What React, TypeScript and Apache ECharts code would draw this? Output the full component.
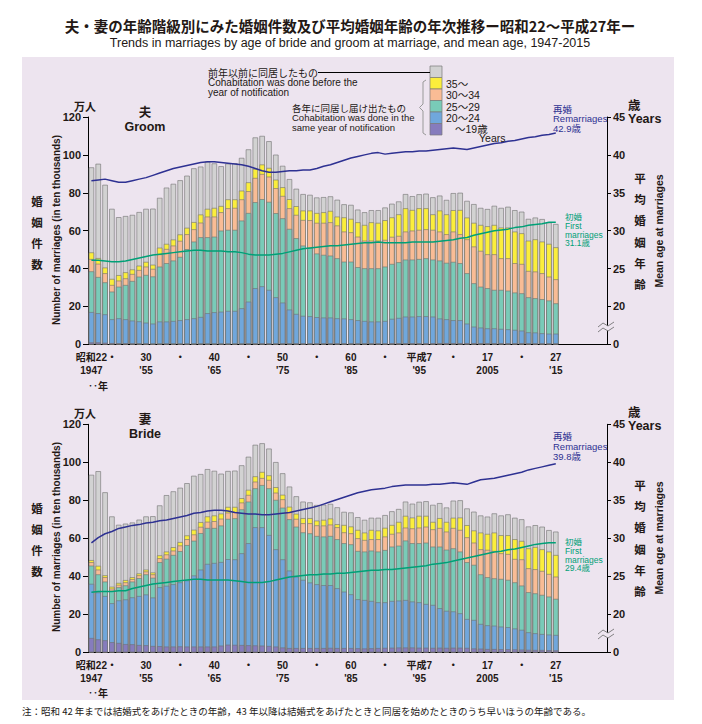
import { useEffect, useRef } from "react";
import * as echarts from "echarts";

// ---- categories ----
const years: string[] = Array.from({ length: 76 }, (_, i) => String(1947 + i)); // 2016-2022 left empty
const tickLabels: Record<string, string> = {
  "1947": "昭和22\n1947", "1950": "・", "1955": "30\n'55", "1960": "・", "1965": "40\n'65",
  "1970": "・", "1975": "50\n'75", "1980": "・", "1985": "60\n'85", "1990": "・",
  "1995": "平成7\n'95", "2000": "・", "2005": "17\n2005", "2010": "・", "2015": "27\n'15",
};

// ---- marriages, 10 thousands (1947-2015) ----
const totalMarriages = [
  93.4, 95.3, 84.2, 71.5, 67.1, 67.7, 68.3, 69.8, 71.5, 71.6,
  77.3, 82.7, 84.7, 86.6, 89.0, 92.9, 93.8, 96.4, 95.5, 94.0,
  95.4, 95.6, 98.4, 102.9, 109.2, 110.0, 107.2, 100.1, 94.2, 87.2,
  82.1, 79.3, 78.9, 77.5, 77.7, 78.1, 76.3, 73.9, 73.6, 71.1,
  69.7, 70.8, 70.8, 72.2, 74.2, 75.4, 79.3, 78.2, 79.2, 79.5,
  77.6, 78.5, 76.2, 79.8, 80.0, 75.7, 74.0, 72.0, 71.4, 73.1,
  72.0, 72.6, 70.8, 70.0, 66.2, 66.9, 66.1, 64.3, 63.5,
];
// cohabitation in same year as notification (all ages)
const sameYearTotal = [
  48.5, 45.5, 40.5, 34.5, 36.5, 38.0, 39.5, 41.5, 43.5, 42.0,
  51.0, 53.0, 55.3, 58.0, 61.5, 64.5, 68.5, 71.5, 72.0, 73.0,
  76.5, 76.5, 81.1, 85.5, 92.6, 94.9, 93.1, 86.9, 82.9, 76.6,
  72.9, 70.6, 70.6, 69.3, 69.7, 70.4, 67.4, 67.0, 66.2, 64.4,
  63.0, 64.4, 64.1, 65.5, 67.0, 68.6, 71.8, 70.9, 71.8, 71.8,
  68.6, 70.6, 68.6, 70.8, 70.9, 66.9, 64.1, 63.0, 62.3, 63.0,
  61.6, 61.6, 59.5, 58.6, 54.7, 55.4, 54.2, 53.0, 51.2,
];
// groom, same-year cohabitation, age up to 34 / 29 / 24 / 19
const groomUpTo34 = [
  45.0, 42.5, 37.5, 31.3, 33.6, 34.8, 37.1, 39.2, 41.0, 39.8,
  47.5, 50.3, 52.1, 54.6, 58.1, 60.7, 64.2, 67.4, 67.4, 69.7,
  71.8, 72.0, 76.5, 80.8, 87.8, 89.9, 88.5, 82.4, 78.3, 71.8,
  68.3, 65.6, 65.5, 64.1, 64.1, 64.4, 62.7, 59.5, 59.1, 56.8,
  54.7, 54.7, 54.7, 55.1, 56.7, 57.2, 59.5, 60.0, 60.4, 60.7,
  60.4, 59.5, 58.1, 59.5, 58.1, 55.4, 51.6, 49.3, 47.5, 47.5,
  45.4, 45.4, 42.8, 42.4, 38.7, 38.4, 37.5, 35.7, 34.3,
];
const groomUpTo29 = [
  38.5, 35.5, 32.7, 27.8, 30.4, 31.3, 33.4, 35.7, 36.6, 35.8,
  41.0, 42.8, 44.2, 46.1, 50.2, 54.2, 56.5, 56.5, 56.8, 60.0,
  60.4, 60.4, 65.3, 69.3, 75.0, 76.6, 75.2, 69.2, 66.5, 60.9,
  56.0, 52.1, 50.9, 47.9, 47.2, 46.8, 45.4, 43.6, 43.6, 40.7,
  40.1, 40.1, 40.1, 41.0, 42.4, 43.3, 44.7, 44.7, 45.0, 45.4,
  44.7, 44.2, 43.0, 43.5, 42.8, 37.5, 32.2, 30.4, 29.6, 28.7,
  28.7, 28.3, 27.3, 26.9, 24.8, 24.3, 23.8, 23.1, 21.6,
];
const groomUpTo24 = [
  17.0, 16.4, 15.8, 13.2, 13.7, 13.2, 12.5, 12.1, 11.4, 10.9,
  12.0, 12.0, 12.3, 12.7, 13.2, 13.7, 14.4, 16.4, 16.9, 17.2,
  17.6, 17.6, 19.0, 22.5, 29.6, 30.6, 28.7, 24.8, 22.0, 18.3,
  16.0, 15.0, 14.8, 14.3, 14.1, 14.1, 13.7, 13.6, 13.2, 12.7,
  12.3, 12.0, 12.0, 12.3, 13.4, 13.9, 14.6, 14.6, 14.8, 14.8,
  14.6, 13.6, 13.2, 12.7, 12.7, 10.9, 9.3, 8.8, 8.4, 8.4,
  8.1, 7.9, 7.6, 7.2, 6.3, 6.2, 5.8, 5.6, 5.6,
];
const groomUpTo19 = [
  1.0, 1.0, 0.8, 0.6, 0.5, 0.5, 0.4, 0.4, 0.4, 0.3,
  0.3, 0.3, 0.3, 0.3, 0.3, 0.3, 0.3, 0.3, 0.3, 0.3,
  0.3, 0.3, 0.3, 0.4, 0.4, 0.4, 0.4, 0.4, 0.4, 0.4,
  0.4, 0.4, 0.4, 0.4, 0.4, 0.4, 0.4, 0.4, 0.4, 0.4,
  0.4, 0.4, 0.4, 0.4, 0.5, 0.5, 0.5, 0.5, 0.5, 0.5,
  0.5, 0.6, 0.6, 0.6, 0.6, 0.6, 0.6, 0.5, 0.5, 0.5,
  0.5, 0.5, 0.5, 0.5, 0.4, 0.4, 0.4, 0.4, 0.4,
];
// bride, same-year cohabitation, age up to 34 / 29 / 24 / 19
const brideUpTo34 = [
  47.4, 43.5, 39.5, 33.5, 35.5, 36.8, 38.5, 40.5, 42.5, 41.0,
  49.5, 51.5, 53.5, 56.2, 59.5, 62.0, 66.0, 68.7, 69.0, 70.3,
  73.5, 73.8, 78.8, 82.8, 89.8, 91.7, 90.7, 84.0, 80.5, 73.7,
  70.2, 67.9, 67.9, 66.8, 66.7, 67.2, 65.8, 63.1, 62.6, 60.0,
  59.1, 59.5, 59.5, 60.9, 62.3, 63.0, 65.6, 65.2, 65.6, 66.1,
  64.7, 65.4, 63.5, 65.4, 64.4, 60.5, 57.7, 54.2, 53.9, 53.3,
  52.1, 51.7, 49.1, 48.9, 44.2, 43.7, 42.8, 41.2, 39.8,
];
const brideUpTo29 = [
  45.6, 41.0, 37.2, 32.3, 34.2, 35.2, 37.2, 39.0, 41.0, 39.2,
  47.4, 49.2, 51.2, 53.2, 56.4, 58.7, 62.7, 65.4, 65.4, 66.7,
  70.2, 70.5, 75.2, 79.3, 86.3, 88.0, 86.3, 80.2, 76.1, 70.0,
  66.1, 63.1, 62.6, 61.2, 60.9, 61.2, 59.5, 57.4, 56.8, 53.3,
  53.0, 53.5, 53.0, 53.8, 55.6, 56.1, 58.8, 57.4, 57.4, 57.7,
  55.6, 55.6, 54.0, 54.7, 53.0, 47.4, 46.0, 41.0, 39.5, 38.9,
  38.6, 38.1, 36.8, 35.1, 31.6, 31.0, 30.2, 29.3, 28.1,
];
const brideUpTo24 = [
  36.0, 31.5, 29.6, 25.8, 27.3, 27.8, 28.9, 29.6, 30.4, 28.8,
  34.2, 35.0, 35.8, 36.8, 37.8, 40.4, 43.5, 46.5, 47.0, 47.5,
  49.0, 48.9, 52.1, 57.4, 65.8, 65.8, 61.7, 54.2, 48.9, 43.0,
  39.8, 38.1, 36.7, 35.8, 35.3, 35.3, 33.7, 31.9, 30.5, 27.9,
  27.5, 27.0, 26.3, 26.3, 27.0, 27.2, 27.5, 26.7, 26.3, 25.4,
  24.9, 23.2, 21.8, 21.5, 20.5, 17.5, 17.0, 14.9, 14.2, 14.0,
  13.5, 13.2, 12.5, 11.8, 10.5, 10.0, 9.6, 9.3, 9.1,
];
const brideUpTo19 = [
  7.5, 6.8, 6.3, 5.3, 4.9, 4.3, 4.2, 3.8, 3.7, 3.3,
  3.2, 3.0, 3.0, 3.1, 3.0, 3.0, 3.0, 3.0, 3.0, 3.5,
  4.0, 3.9, 3.8, 3.7, 3.6, 3.5, 3.3, 3.0, 2.5, 2.2,
  2.2, 2.2, 2.2, 2.2, 2.2, 2.3, 2.2, 2.2, 2.2, 2.1,
  2.0, 2.1, 2.2, 2.3, 2.4, 2.5, 2.5, 2.5, 2.4, 2.4,
  2.3, 2.4, 2.3, 2.4, 2.4, 2.3, 2.0, 1.9, 1.7, 1.7,
  1.6, 1.6, 1.5, 1.4, 1.3, 1.2, 1.2, 1.1, 1.0,
];

// ---- mean age at marriage (years) ----
const groomFirstAge = [
  26.1, 26.1, 26.0, 25.9, 25.9, 26.0, 26.2, 26.4, 26.6, 26.8,
  26.9, 27.0, 27.1, 27.2, 27.3, 27.4, 27.4, 27.3, 27.3, 27.3,
  27.2, 27.2, 27.1, 26.9, 26.8, 26.8, 26.8, 26.9, 27.0, 27.2,
  27.4, 27.6, 27.7, 27.8, 27.9, 28.0, 28.0, 28.1, 28.2, 28.3,
  28.4, 28.4, 28.5, 28.4, 28.4, 28.4, 28.4, 28.5, 28.5, 28.5,
  28.5, 28.6, 28.7, 28.8, 29.0, 29.1, 29.4, 29.6, 29.8, 30.0,
  30.1, 30.2, 30.4, 30.5, 30.7, 30.8, 30.9, 31.1, 31.1,
];
const groomRemarriageAge = [
  36.6, 36.7, 36.8, 36.6, 36.4, 36.4, 36.6, 36.8, 37.0, 37.3,
  37.6, 37.9, 38.2, 38.4, 38.6, 38.8, 39.0, 39.1, 39.1, 39.0,
  38.9, 38.8, 38.7, 38.5, 38.2, 37.9, 37.7, 37.7, 37.8, 37.9,
  37.9, 38.0, 38.0, 38.2, 38.5, 38.7, 39.0, 39.3, 39.6, 39.8,
  40.0, 40.2, 40.3, 40.1, 40.2, 40.3, 40.4, 40.4, 40.5, 40.5,
  40.6, 40.7, 40.8, 40.9, 40.8, 40.7, 40.9, 41.1, 41.3, 41.5,
  41.6, 41.8, 41.9, 42.1, 42.3, 42.4, 42.6, 42.7, 42.9,
];
const brideFirstAge = [
  22.9, 23.0, 23.0, 23.0, 23.1, 23.1, 23.4, 23.6, 23.8, 24.0,
  24.1, 24.2, 24.3, 24.4, 24.5, 24.6, 24.6, 24.5, 24.5, 24.5,
  24.5, 24.4, 24.3, 24.2, 24.2, 24.2, 24.3, 24.5, 24.7, 24.9,
  25.0, 25.1, 25.2, 25.2, 25.3, 25.3, 25.4, 25.4, 25.5, 25.6,
  25.7, 25.8, 25.8, 25.9, 25.9, 26.0, 26.1, 26.2, 26.3, 26.4,
  26.6, 26.7, 26.8, 27.0, 27.2, 27.4, 27.6, 27.8, 28.0, 28.2,
  28.3, 28.5, 28.6, 28.8, 29.0, 29.2, 29.3, 29.4, 29.4,
];
const brideRemarriageAge = [
  29.4, 30.1, 30.6, 30.9, 31.3, 31.5, 31.7, 31.8, 32.0, 32.1,
  32.3, 32.4, 32.6, 32.8, 33.0, 33.3, 33.4, 33.6, 33.7, 33.7,
  33.6, 33.4, 33.3, 33.2, 33.2, 33.1, 33.1, 33.2, 33.3, 33.4,
  33.6, 33.8, 34.0, 34.2, 34.5, 34.8, 35.1, 35.4, 35.7, 36.0,
  36.2, 36.4, 36.5, 36.6, 36.8, 36.9, 37.0, 37.0, 37.0, 37.0,
  37.1, 37.1, 37.2, 37.3, 37.2, 37.1, 37.4, 37.7, 37.8, 37.9,
  38.1, 38.3, 38.5, 38.7, 39.0, 39.2, 39.4, 39.6, 39.8,
];

const C = {
  grey: "#d2d2d2", yellow: "#fbee3c", orange: "#f9bc95", teal: "#79cbb8",
  blue: "#70a7dc", purple: "#867cbd", navy: "#2e3192", green: "#00a077",
  ink: "#231815", panel: "#ede4ef",
};
const JP = "'Noto Sans CJK JP'";
const LAT = "'Liberation Sans', 'Noto Sans CJK JP'";

function txt(text: string, x: number, y: number, size: number, o: any = {}) {
  const va = o.valign || "middle";
  return {
    type: "text", x, y, silent: true, rotation: o.rotation || 0, z: 20,
    style: {
      text, fill: o.fill || C.ink,
      font: `${o.weight || "normal"} ${size}px ${o.family || LAT}`,
      textAlign: o.align || "left", align: o.align || "left",
      textVerticalAlign: va, verticalAlign: va,
      lineHeight: o.lineHeight, rich: o.rich,
    },
  };
}

function barSeries(data: number[], color: string, axis: number) {
  return {
    type: "bar", xAxisIndex: axis, yAxisIndex: axis * 2, data, barWidth: 5.4, barGap: "-100%",
    silent: true, itemStyle: { color, borderColor: "#707070", borderWidth: 0.6 },
  };
}
function lineSeries(data: number[], color: string, axis: number) {
  return {
    type: "line", xAxisIndex: axis, yAxisIndex: axis * 2 + 1, data, symbol: "none", z: 5, silent: true,
    lineStyle: { color, width: 1.5 },
  };
}

function breakMark(y: number) {
  const pts1 = [[598, y + 2], [603, y - 2], [608, y + 1], [614, y - 3]];
  const pts2 = pts1.map(([a, b]) => [a, b + 5]);
  return [
    { type: "polygon", z: 20, silent: true, shape: { points: [...pts1, ...pts2.slice().reverse()] }, style: { fill: C.panel, stroke: null } },
    { type: "polyline", z: 21, silent: true, shape: { points: pts1 }, style: { stroke: "#666", lineWidth: 0.8, fill: null } },
    { type: "polyline", z: 21, silent: true, shape: { points: pts2 }, style: { stroke: "#666", lineWidth: 0.8, fill: null } },
  ];
}

function chartTexts(dy: number, label: string) {
  return [
    txt("万人", 85, 106 + dy, 11, { family: JP, weight: "bold", align: "center" }),
    txt(label, 145, 106.5 + dy, 12.5, { weight: "bold", align: "center", valign: "top", lineHeight: 13.5 }),
    txt("歳\nYears", 628, 99.5 + dy, 12.5, { weight: "bold", valign: "top", lineHeight: 13 }),
    ...["婚", "姻", "件", "数"].map((c, i) => txt(c, 37, 201 + dy + i * 21, 11.5, { family: JP, weight: "bold", align: "center" })),
    txt("Number of marriages (in ten thousands)", 56, 230 + dy, 10, { weight: "bold", align: "center", rotation: Math.PI / 2 }),
    ...["平", "均", "婚", "姻", "年", "齢"].map((c, i) => txt(c, 640, 178 + dy + i * 21.2, 11.5, { family: JP, weight: "bold", align: "center" })),
    txt("Mean age at marriages", 659, 231 + dy, 10.5, { weight: "bold", align: "center", rotation: Math.PI / 2 }),
    txt("‥年", 98, 385 + dy, 10, { family: JP, weight: "bold", align: "center" }),
    ...breakMark(325 + dy),
  ];
}

const legendColors = [C.grey, C.yellow, C.orange, C.teal, C.blue, C.purple];
const legendLabels = ["", "35～", "30～34", "25～29", "20～24", ""];

export default function App() {
  const ref = useRef<HTMLDivElement>(null);
  useEffect(() => {
    const chart = echarts.init(ref.current!, null, { renderer: "svg" });
    const xAxis = (gi: number) => ({
      type: "category", gridIndex: gi, data: years,
      axisLine: { lineStyle: { color: "#000", width: 1 } }, axisTick: { show: false },
      axisLabel: {
        interval: 0, formatter: (v: string) => tickLabels[v] || "", color: C.ink,
        fontSize: 10, lineHeight: 13, margin: 7, fontWeight: "bold", fontFamily: LAT,
      },
    });
    const yLeft = (gi: number) => ({
      type: "value", gridIndex: gi, min: 0, max: 120, interval: 20, position: "left",
      axisLine: { show: true, lineStyle: { color: "#000" } }, axisTick: { show: true, length: 5, lineStyle: { color: "#000" } },
      splitLine: { show: false },
      axisLabel: { color: C.ink, fontSize: 11, margin: 7, fontWeight: "bold", fontFamily: LAT },
    });
    const yRight = (gi: number) => ({
      type: "value", gridIndex: gi, min: 15, max: 45, interval: 5, position: "right",
      axisLine: { show: true, lineStyle: { color: "#000" } }, axisTick: { show: true, length: 4, lineStyle: { color: "#000" } },
      splitLine: { show: false },
      axisLabel: { color: C.ink, fontSize: 11, margin: 6, fontWeight: "bold", fontFamily: LAT, formatter: (v: number) => (v === 15 ? "0" : String(v)) },
    });

    const graphic: any[] = [
      txt("夫・妻の年齢階級別にみた婚姻件数及び平均婚姻年齢の年次推移ー昭和22～平成27年ー", 350, 25, 14.5, { family: JP, weight: "bold", align: "center" }),
      txt("Trends in marriages by age of bride and groom at marriage, and mean age, 1947-2015", 350, 43, 12.5, { align: "center" }),
      ...chartTexts(0, "夫\nGroom"),
      ...chartTexts(307, "妻\nBride"),
      // legend
      ...legendColors.map((c, i) => ({
        type: "rect", z: 20, silent: true, shape: { x: 430, y: 66 + i * 11.5, width: 12, height: 11.5 },
        style: { fill: c, stroke: "#7a7a7a", lineWidth: 0.7 },
      })),
      ...legendLabels.map((l, i) => (l ? txt(l, 446, 72 + i * 11.5, 10.5, {}) : null)).filter(Boolean),
      txt("～19歳\n{y|Years}", 455, 124, 10.5, { valign: "top", lineHeight: 9.5, rich: { y: { padding: [0, 0, 0, 24], fontSize: 10.5, lineHeight: 9.5 } } }),
      { type: "line", z: 20, silent: true, shape: { x1: 318, y1: 72.5, x2: 430, y2: 72.5 }, style: { stroke: "#000", lineWidth: 1 } },
      {
        type: "polyline", z: 20, silent: true,
        shape: { points: [[426, 80], [423, 82], [423, 104], [419.5, 107.5], [423, 111], [423, 133], [426, 135]] },
        style: { stroke: "#999", lineWidth: 1, fill: null },
      },
      txt("前年以前に同居したもの\nCohabitation was done before the\nyear of notification", 208, 68.3, 10, { valign: "top", lineHeight: 9.5 }),
      txt("各年に同居し届け出たもの\nCohabitation was done in the\nsame year of notification", 292, 103.2, 9.5, { valign: "top", lineHeight: 9.7 }),
      // line annotations groom
      txt("再婚\nRemarriages\n42.9歳", 553, 104.2, 9.5, { fill: C.navy, valign: "top", lineHeight: 9.7 }),
      txt("初婚\nFirst\nmarriages\n31.1歳", 565, 212.6, 8.5, { fill: C.green, valign: "top", lineHeight: 8.8 }),
      // line annotations bride
      txt("再婚\nRemarriages\n39.8歳", 553, 432, 9.5, { fill: C.navy, valign: "top", lineHeight: 9.7 }),
      txt("初婚\nFirst\nmarriages\n29.4歳", 565, 537.6, 8.5, { fill: C.green, valign: "top", lineHeight: 8.8 }),
      txt("注：昭和 42 年までは結婚式をあげたときの年齢，43 年以降は結婚式をあげたときと同居を始めたときのうち早いほうの年齢である。", 22, 711, 9.5, { family: JP }),
    ];

    chart.setOption({
      animation: false,
      grid: [
        { left: 88, top: 117, width: 519, height: 227.3 },
        { left: 88, top: 424.3, width: 519, height: 228 },
      ],
      xAxis: [xAxis(0), xAxis(1)],
      yAxis: [yLeft(0), yRight(0), yLeft(1), yRight(1)],
      series: [
        barSeries(totalMarriages, C.grey, 0),
        barSeries(sameYearTotal, C.yellow, 0),
        barSeries(groomUpTo34, C.orange, 0),
        barSeries(groomUpTo29, C.teal, 0),
        barSeries(groomUpTo24, C.blue, 0),
        barSeries(groomUpTo19, C.purple, 0),
        lineSeries(groomRemarriageAge, C.navy, 0),
        lineSeries(groomFirstAge, C.green, 0),
        barSeries(totalMarriages, C.grey, 1),
        barSeries(sameYearTotal, C.yellow, 1),
        barSeries(brideUpTo34, C.orange, 1),
        barSeries(brideUpTo29, C.teal, 1),
        barSeries(brideUpTo24, C.blue, 1),
        barSeries(brideUpTo19, C.purple, 1),
        lineSeries(brideRemarriageAge, C.navy, 1),
        lineSeries(brideFirstAge, C.green, 1),
      ],
      graphic,
    });
    return () => chart.dispose();
  }, []);

  return (
    <div style={{ position: "absolute", left: 0, top: 0, width: 702, height: 724, background: "#fff" }}>
      <div style={{ position: "absolute", left: 22, top: 57, width: 652, height: 643, background: C.panel }} />
      <div ref={ref} style={{ position: "absolute", left: 0, top: 0, width: 702, height: 724 }} />
    </div>
  );
}
